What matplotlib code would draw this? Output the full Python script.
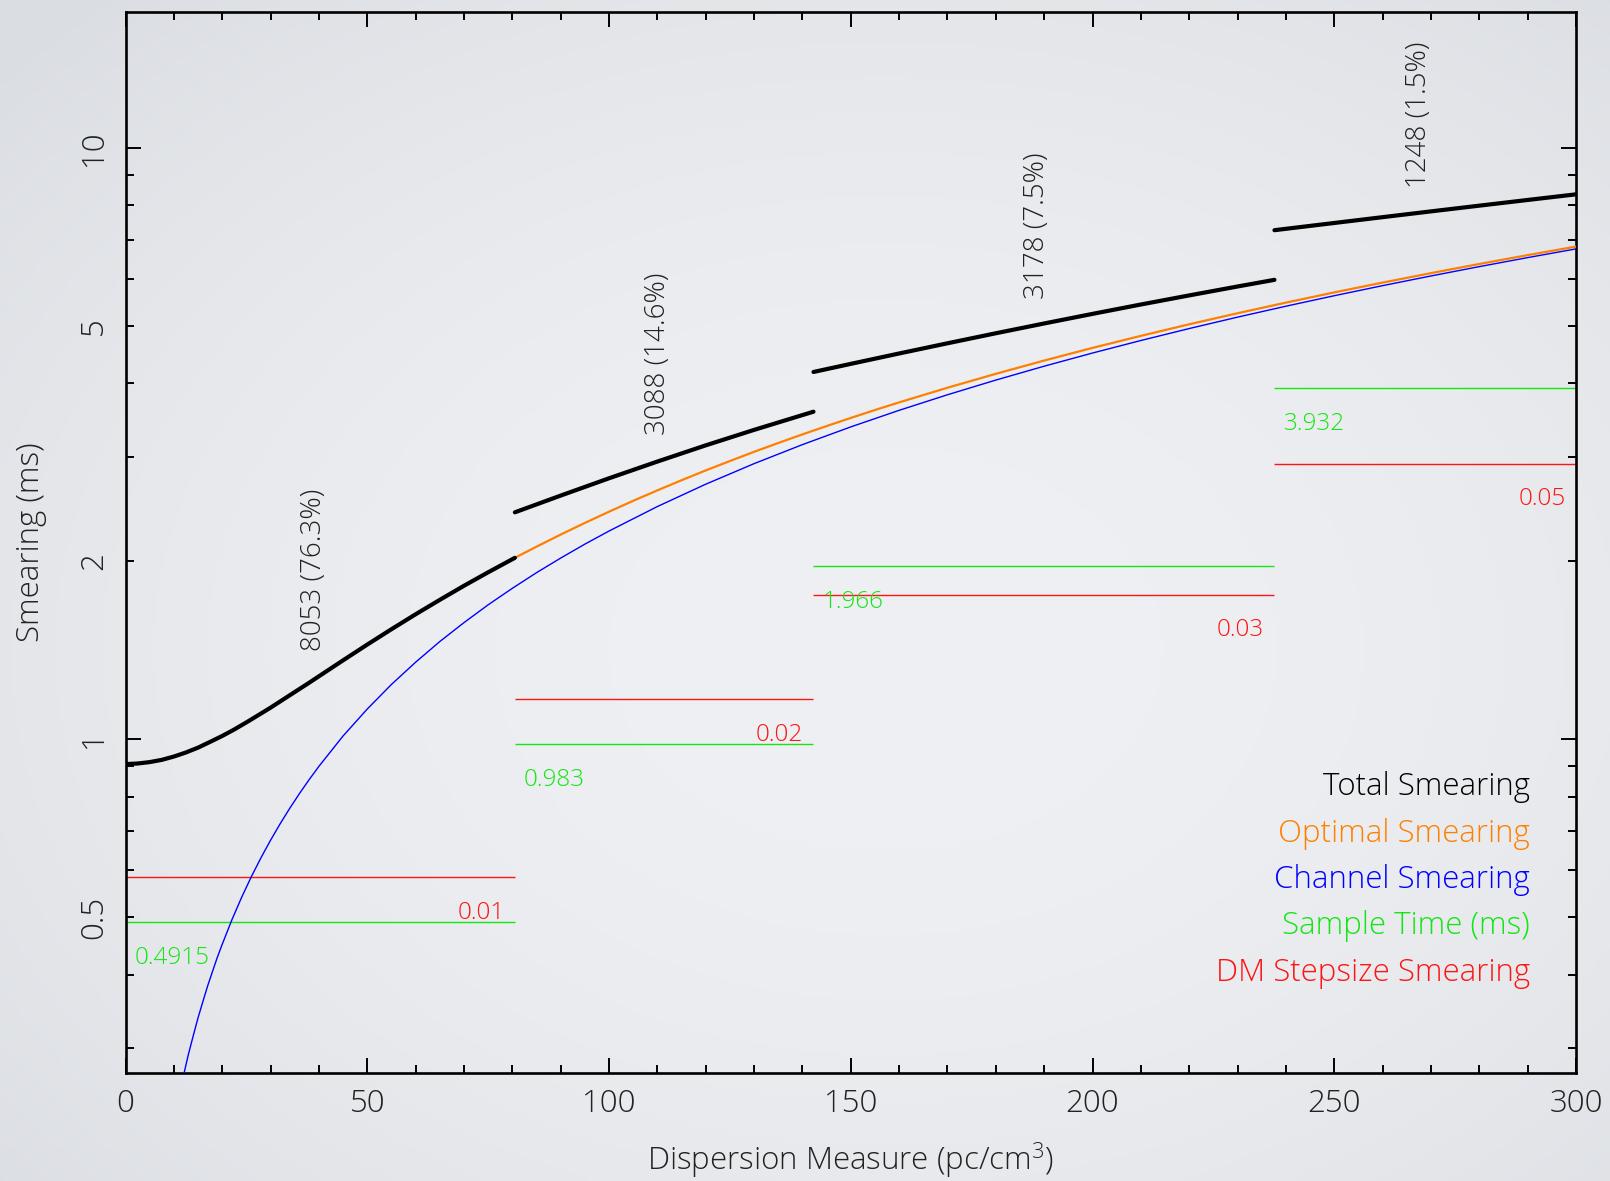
import numpy as np
import matplotlib
matplotlib.use("Agg")
import matplotlib.pyplot as plt
from matplotlib.ticker import FixedLocator, FuncFormatter, NullFormatter

# --------------------------------------------------------------------------- #
# dedispersion plan (one entry per DM segment)
# --------------------------------------------------------------------------- #
dm_steps = [0.01, 0.02, 0.03, 0.05]
num_dms = [8053, 3088, 3178, 1248]
work_pct = [76.3, 14.6, 7.5, 1.5]
sample_time = [0.4915, 0.983, 1.966, 3.932]      # ms
step_smear = [0.585, 1.169, 1.757, 2.924]         # ms

# total smearing of each segment (ms)
tot_dm = [
    [0, 2.5, 5, 7.5, 10, 12.5, 15, 17.5, 20, 22.5, 25, 27.5, 30, 32.5, 35,
     37.5, 40, 45, 50, 55, 60, 65, 70, 75, 80.53],
    [80.53, 90, 100, 110, 120, 130, 142.29],
    [142.29, 150, 160, 170, 180, 190, 200, 210, 220, 230, 237.63],
    [237.63, 250, 260, 270, 280, 290, 300],
]
tot_smear = [
    [0.908, 0.910, 0.915, 0.923, 0.935, 0.950, 0.968, 0.990, 1.013, 1.039,
     1.068, 1.099, 1.131, 1.166, 1.202, 1.239, 1.278, 1.360, 1.446, 1.535,
     1.627, 1.721, 1.818, 1.916, 2.027],
    [2.420, 2.583, 2.763, 2.949, 3.141, 3.336, 3.581],
    [4.180, 4.314, 4.492, 4.674, 4.860, 5.049, 5.241, 5.436, 5.632, 5.831, 5.984],
    [7.260, 7.467, 7.638, 7.812, 7.988, 8.167, 8.348],
]

# optimal smearing (ms)
opt_dm = [80.53, 85, 90, 95, 100, 105, 110, 115, 120, 125, 130, 135, 140, 145,
          150, 155, 160, 170, 180, 190, 200, 210, 220, 230, 240, 250, 260, 270,
          280, 290, 300]
opt_smear = [2.027, 2.117, 2.219, 2.322, 2.426, 2.531, 2.636, 2.742, 2.849,
             2.955, 3.063, 3.170, 3.278, 3.386, 3.495, 3.604, 3.713, 3.931,
             4.150, 4.370, 4.591, 4.811, 5.033, 5.254, 5.476, 5.698, 5.920,
             6.142, 6.365, 6.588, 6.811]

# channel smearing (ms)
chan_dm = [11, 12, 13, 14, 15, 16, 17, 18, 19, 20, 22, 24, 26, 28, 30, 32, 34,
           36, 38, 40, 45, 50, 55, 60, 65, 70, 75, 80, 85, 90, 95, 100, 110,
           120, 130, 140, 150, 160, 170, 180, 190, 200, 210, 220, 230, 240, 250,
           260, 270, 280, 290, 300]
chan_smear = [0.248, 0.270, 0.293, 0.315, 0.338, 0.360, 0.383, 0.405, 0.428,
              0.450, 0.495, 0.540, 0.585, 0.630, 0.675, 0.720, 0.765, 0.810,
              0.855, 0.900, 1.013, 1.125, 1.238, 1.350, 1.463, 1.575, 1.688,
              1.800, 1.913, 2.025, 2.138, 2.250, 2.475, 2.700, 2.925, 3.150,
              3.375, 3.600, 3.825, 4.050, 4.275, 4.500, 4.725, 4.950, 5.175,
              5.400, 5.625, 5.850, 6.075, 6.300, 6.525, 6.750]

legend_names = ["Total Smearing", "Optimal Smearing", "Channel Smearing",
                "Sample Time (ms)", "DM Stepsize Smearing"]

BLACK, ORANGE, BLUE, GREEN, RED = "#000000", "#ff8000", "#0000ff", "#14e614", "#ff1414"
legend_colors = [BLACK, ORANGE, BLUE, GREEN, RED]

plt.rcParams["font.family"] = ["Open Sans", "DejaVu Sans"]
plt.rcParams["font.weight"] = "light"
plt.rcParams["axes.labelweight"] = "light"
plt.rcParams["mathtext.fontset"] = "custom"
plt.rcParams["mathtext.rm"] = "Open Sans:light"
plt.rcParams["mathtext.it"] = "Open Sans:light"

W, H, DPI = 1610, 1181, 100
fig = plt.figure(figsize=(W / DPI, H / DPI), dpi=DPI)

# soft slide-style background, lighter in the middle
bg = fig.add_axes([0, 0, 1, 1], zorder=-10)
yy, xx = np.mgrid[0:1:300j, 0:1:400j]
r = np.sqrt(((xx - 0.55) / 0.75) ** 2 + ((yy - 0.55) / 0.75) ** 2)
r = np.clip(r, 0, 1)
c0 = np.array([239, 240, 243]) / 255
c1 = np.array([218, 221, 226]) / 255
img = c0[None, None, :] * (1 - r[..., None] ** 2) + c1[None, None, :] * r[..., None] ** 2
bg.imshow(img, aspect="auto", extent=[0, 1, 0, 1], origin="upper")
bg.axis("off")

ax = fig.add_axes([125.5 / W, 1 - 1072.7 / H, 1450.5 / W, 1060.7 / H])
ax.set_facecolor("none")
ax.set_yscale("log")
ax.set_xlim(0, 300)
ax.set_ylim(0.273, 16.98)

edges = np.concatenate([[0.0], np.cumsum(np.array(num_dms) * np.array(dm_steps))])

ax.plot(chan_dm, chan_smear, color=BLUE, lw=1.0, zorder=3)
ax.plot(opt_dm, opt_smear, color=ORANGE, lw=1.6, zorder=4)

for i in range(len(num_dms)):
    lo, hi = edges[i], edges[i + 1]
    ax.plot(tot_dm[i], tot_smear[i], color=BLACK, lw=3.0,
            solid_capstyle="round", zorder=5)
    ax.hlines(sample_time[i], lo, hi, color=GREEN, lw=1.0, zorder=2)
    ax.hlines(step_smear[i], lo, hi, color=RED, lw=1.0, zorder=2)

    ax.annotate(f"{sample_time[i]:g}", (lo, sample_time[i]),
                xytext=(6.5, -30.5), textcoords="offset points",
                ha="left", va="baseline", color=GREEN, fontsize=17.5)
    ax.annotate(f"{dm_steps[i]:g}", (min(hi, 300), step_smear[i]),
                xytext=(-7.5, -30), textcoords="offset points",
                ha="right", va="baseline", color=RED, fontsize=17.5)

    mid = 0.5 * (lo + hi)
    y_lab = 1.1 * np.interp(mid, tot_dm[i], tot_smear[i])
    ax.annotate(f"{num_dms[i]} ({work_pct[i]:.1f}%)", (mid, y_lab),
                xytext=(-4.8, 0), textcoords="offset points",
                ha="center", va="bottom", rotation=90, fontsize=20,
                color="#222222")

# legend as coloured text, right aligned
leg_y = [0.2618, 0.2178, 0.1744, 0.1305, 0.0867]
for name, col, y in zip(legend_names, legend_colors, leg_y):
    ax.text(0.9683, y, name, color=col, fontsize=22.5, ha="right", va="baseline",
            transform=ax.transAxes)

# axes, ticks, labels
for sp in ax.spines.values():
    sp.set_linewidth(1.9)
ax.xaxis.set_major_locator(FixedLocator([0, 50, 100, 150, 200, 250, 300]))
ax.xaxis.set_minor_locator(FixedLocator(np.arange(0, 301, 10)))
ax.yaxis.set_major_locator(FixedLocator([1, 10]))
minor_y = [m * d for d in (0.1, 1, 10) for m in range(2, 10)]
ax.yaxis.set_minor_locator(FixedLocator(minor_y))
ax.yaxis.set_major_formatter(FuncFormatter(lambda v, p: f"{v:g}"))
ax.yaxis.set_minor_formatter(
    FuncFormatter(lambda v, p: f"{v:g}" if any(abs(v - t) < 1e-6 for t in (0.5, 2, 5)) else ""))
ax.xaxis.set_minor_formatter(NullFormatter())

ax.tick_params(which="both", direction="in", top=True, right=True, width=1.4,
               colors="black")
ax.tick_params(which="major", length=11)
ax.tick_params(which="minor", length=5.5)
ax.tick_params(axis="x", which="major", labelsize=22.5, pad=11, labelcolor="#222222")
ax.tick_params(axis="y", which="both", labelsize=22.5, pad=11, labelrotation=90,
               labelcolor="#222222")
for lbl in ax.get_yticklabels(which="both"):
    lbl.set_va("center")

ax.set_xlabel("Dispersion Measure (pc/cm$^{3}$)", fontsize=22.5, color="#222222")
ax.xaxis.set_label_coords(0.5, -0.064)
ax.set_ylabel("Smearing (ms)", fontsize=22.5, color="#222222")
ax.yaxis.set_label_coords(-0.054, 0.5)

fig.savefig("out.png", dpi=DPI)
